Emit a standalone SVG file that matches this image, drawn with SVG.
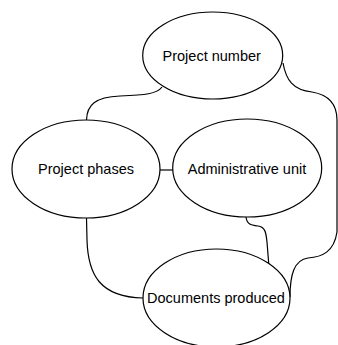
<svg xmlns="http://www.w3.org/2000/svg" width="338" height="345" viewBox="0 0 338 345">
  <style>
    .node ellipse { fill: #ffffff; stroke: #000000; stroke-width: 1.2; }
    .node text { font-family: "Liberation Sans", Arial, Helvetica, sans-serif; font-size: 14.5px; fill: #000000; text-anchor: middle; }
    .edges path { fill: none; stroke: #000000; stroke-width: 1.2; }
  </style>
  <rect width="338" height="345" fill="#ffffff"/>

  <!-- connectors -->
  <g id="edges" class="edges">
    <path d="M162 87 C 157 94, 145 95, 120 96 C 95 97, 87 105, 86.5 120"/>
    <path d="M283 63 C 286 80, 293 90, 312 92 C 330 95, 337 105, 337 120 L 337 232 C 334 252, 322 257, 308 258 C 294 260, 290 275, 290 297"/>
    <path d="M86.5 218 L 87 240 C 88 275, 100 297, 143 298"/>
    <path d="M160 170 L 173 170"/>
    <path d="M246 217 C 247 224, 250 225, 258 226 C 265 227, 266 232, 267 242 L 269 267"/>
  </g>

  <g id="project-number" class="node">
    <ellipse cx="212.7" cy="55.5" rx="70" ry="43.5"/>
    <text x="211.7" y="60.5">Project number</text>
  </g>

  <g id="project-phases" class="node">
    <ellipse cx="86" cy="169" rx="74" ry="49"/>
    <text x="86" y="174">Project phases</text>
  </g>

  <g id="administrative-unit" class="node">
    <ellipse cx="247.2" cy="168" rx="74.5" ry="49"/>
    <text x="247" y="174">Administrative unit</text>
  </g>

  <g id="documents-produced" class="node">
    <ellipse cx="216.5" cy="298" rx="73.5" ry="49"/>
    <text x="216" y="303">Documents produced</text>
  </g>
</svg>
